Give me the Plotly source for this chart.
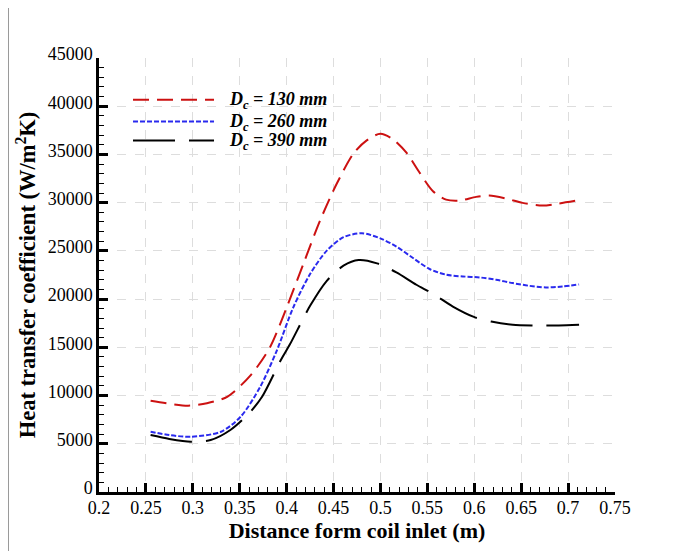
import plotly.graph_objects as go

# ---- data ----
x_130 = [0.255, 0.275, 0.295, 0.315, 0.337, 0.362, 0.382, 0.4, 0.4178, 0.4357, 0.4535, 0.4713,
         0.4857, 0.5, 0.5135, 0.5277, 0.5418, 0.556, 0.570, 0.5843, 0.602, 0.616, 0.6339, 0.6515,
         0.6727, 0.690, 0.711]
y_130 = [9450, 9150, 8950, 9200, 9900, 12150, 14960, 19125, 23650, 28160, 31980, 35100,
         36490, 37150, 36560, 35180, 33100, 31190, 30320, 30220, 30600, 30740, 30430, 29980,
         29700, 29910, 30250]

x_260 = [0.255, 0.275, 0.298, 0.33, 0.351, 0.372, 0.3893, 0.407, 0.425, 0.4428, 0.4606, 0.4803,
         0.4999, 0.517, 0.5347, 0.5524, 0.570, 0.5878, 0.6055, 0.6232, 0.641, 0.6585, 0.6763,
         0.694, 0.7117]
y_260 = [6250, 5900, 5730, 6250, 7810, 10940, 14615, 19125, 22600, 25030, 26420, 26830,
         26300, 25450, 24260, 23120, 22530, 22350, 22250, 22010, 21660, 21380, 21210,
         21310, 21520]

x_390 = [0.255, 0.275, 0.298, 0.319, 0.340, 0.36, 0.374, 0.394, 0.4035, 0.425, 0.4428, 0.4606,
         0.4767, 0.4964, 0.517, 0.5383, 0.556, 0.5772, 0.6002, 0.618, 0.641, 0.6643, 0.69, 0.7117]
y_390 = [5900, 5500, 5210, 5390, 6430, 8170, 9900, 13720, 15310, 19300, 21900, 23470,
         24060, 23710, 22770, 21490, 20550, 19230, 18130, 17670, 17330, 17260, 17260, 17330]

series_names = ["D<sub>c</sub> = 130 mm", "D<sub>c</sub> = 260 mm", "D<sub>c</sub> = 390 mm"]
x_ticks = [0.2, 0.25, 0.3, 0.35, 0.4, 0.45, 0.5, 0.55, 0.6, 0.65, 0.7, 0.75]
x_tick_labels = ["0.2", "0.25", "0.3", "0.35", "0.4", "0.45", "0.5", "0.55", "0.6", "0.65", "0.7", "0.75"]
y_ticks = [0, 5000, 10000, 15000, 20000, 25000, 30000, 35000, 40000, 45000]
y_tick_labels = [str(v) for v in y_ticks]

styles = [
    dict(color="#cc1111", width=2, dash="16px,8px"),
    dict(color="#2a2aee", width=2, dash="5px,2px"),
    dict(color="#000000", width=2, dash="42px,14px"),
]

FONT = "Liberation Serif"

fig = go.Figure()
for xs, ys, name, st in zip([x_130, x_260, x_390], [y_130, y_260, y_390], series_names, styles):
    fig.add_trace(go.Scatter(x=xs, y=ys, mode="lines", name=name,
                             line=dict(shape="spline", smoothing=0.8, **st),
                             showlegend=False))

# custom legend (long line samples like the reference)
leg_rows = [0.9037, 0.8537, 0.8099]
for name, st, yr in zip(series_names, styles, leg_rows):
    fig.add_shape(type="line", xref="paper", yref="paper", x0=0.0659, x1=0.2229, y0=yr, y1=yr,
                  line=st)
    fig.add_annotation(xref="paper", yref="paper", x=0.2481, y=yr - 0.002, xanchor="left",
                       yanchor="middle", showarrow=False,
                       text="<b><i>" + name + "</i></b>",
                       font=dict(family=FONT, size=18, color="black"))

# thin grey border line at the left of the picture
fig.add_shape(type="line", xref="paper", yref="paper", x0=-0.1754, x1=-0.1754, y0=-0.3, y1=1.3,
              line=dict(color="#999999", width=1))

axis_common = dict(
    showline=True, linecolor="black", linewidth=2.5,
    ticks="inside", ticklen=9, tickwidth=2.5, tickcolor="black",
    showgrid=True, gridcolor="#dddddd", griddash="dash", gridwidth=1,
    zeroline=False, mirror=False,
    tickfont=dict(family=FONT, size=18, color="black"),
)

fig.update_xaxes(range=[0.2, 0.75], tickvals=x_ticks, ticktext=x_tick_labels,
                 ticklabelstandoff=-2,
                 minor=dict(ticks="inside", ticklen=5, tickwidth=1, tickcolor="black", dtick=0.01,
                            showgrid=False),
                 title=dict(text="<b>Distance form coil inlet (m)</b>", standoff=0,
                            font=dict(family=FONT, size=22, color="black")),
                 **axis_common)
fig.update_yaxes(range=[0, 45000], tickvals=y_ticks, ticktext=y_tick_labels,
                 ticklabelshift=-4,
                 minor=dict(ticks="inside", ticklen=5, tickwidth=1, tickcolor="black", dtick=1000,
                            showgrid=False),
                 title=dict(text="<b>Heat transfer coefficient (W/m<sup>2</sup>K)</b>", standoff=6,
                            font=dict(family=FONT, size=22.5, color="black")),
                 **axis_common)

fig.update_layout(
    width=683, height=551,
    margin=dict(l=91, r=76, t=50, b=67, autoexpand=False),
    paper_bgcolor="white", plot_bgcolor="white",
    font=dict(family=FONT, color="black"),
)

fig.write_html("out.html")
